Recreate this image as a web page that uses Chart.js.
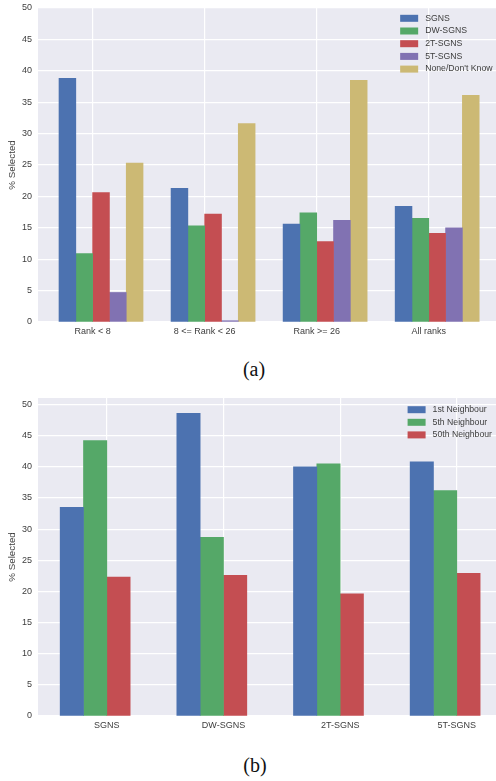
<!DOCTYPE html>
<html>
<head>
<meta charset="utf-8">
<script src="https://cdn.jsdelivr.net/npm/chart.js@4.4.1/dist/chart.umd.min.js"></script>
<style>
  html, body { margin: 0; padding: 0; background: #fff; }
  body { width: 496px; height: 781px; position: relative; overflow: hidden; }
  canvas { position: absolute; left: 0; }
  #chartA { top: 0; }
  #chartB { top: 390px; }
  .caption {
    position: absolute; transform: translateX(-50%);
    font-family: 'Liberation Serif', 'Times New Roman', serif;
    font-size: 20px; line-height: 20px; color: #111; white-space: nowrap;
  }
</style>
</head>
<body>
<canvas id="chartA" width="496" height="342"></canvas>
<div class="caption" style="left: 254px; top: 359px;">(a)</div>
<canvas id="chartB" width="496" height="350"></canvas>
<div class="caption" style="left: 255px; top: 755px;">(b)</div>
<script>
// (a) share of answers per rank bucket
const rankGroups = ['Rank < 8', '8 <= Rank < 26', 'Rank >= 26', 'All ranks'];
const methodsA = ['SGNS', 'DW-SGNS', '2T-SGNS', '5T-SGNS', "None/Don't Know"];
const sgnsA = [38.8, 21.3, 15.6, 18.4];
const dwSgnsA = [10.9, 15.3, 17.4, 16.5];
const t2SgnsA = [20.6, 17.2, 12.8, 14.1];
const t5SgnsA = [4.7, 0.2, 16.2, 15.0];
const noneA = [25.3, 31.6, 38.5, 36.1];
const yTicksA = [0, 5, 10, 15, 20, 25, 30, 35, 40, 45, 50];

// (b) share per neighbour rank
const methodsB = ['SGNS', 'DW-SGNS', '2T-SGNS', '5T-SGNS'];
const neighbourNames = ['1st Neighbour', '5th Neighbour', '50th Neighbour'];
const firstNb = [33.5, 48.6, 40.0, 40.8];
const fifthNb = [44.2, 28.7, 40.5, 36.2];
const fiftiethNb = [22.3, 22.6, 19.6, 22.9];
const yTicksB = [0, 5, 10, 15, 20, 25, 30, 35, 40, 45, 50];

const palette = ['#4C72B0', '#55A868', '#C44E52', '#8172B2', '#CCB974'];
const textColor = '#3d3d3d';
const fontFamily = "'Liberation Sans', Arial, sans-serif";

const plotBackground = {
    id: 'plotBackground',
    beforeDraw(chart) {
        const {ctx, chartArea: a} = chart;
        ctx.save();
        ctx.fillStyle = '#EAEAF2';
        ctx.fillRect(a.left, a.top, a.width, a.height);
        ctx.restore();
    }
};

// matplotlib-like legend in the upper right corner, no frame
const cornerLegend = {
    id: 'cornerLegend',
    afterDatasetsDraw(chart, args, opts) {
        const {ctx, chartArea} = chart;
        const sets = chart.data.datasets;
        ctx.save();
        ctx.font = opts.fontSize + 'px ' + fontFamily;
        const maxW = Math.max(...sets.map(d => ctx.measureText(d.label).width));
        const textX = chartArea.right - opts.right - maxW;
        ctx.textBaseline = 'middle';
        ctx.textAlign = 'left';
        sets.forEach((d, i) => {
            const y = chartArea.top + opts.top + i * opts.rowGap;
            ctx.fillStyle = d.backgroundColor;
            ctx.fillRect(textX - 25, y - 3.5, 18, 7);
            ctx.fillStyle = textColor;
            ctx.fillText(d.label, textX, y);
        });
        ctx.restore();
    }
};

function groupedBars(id, cats, series, names, cfg) {
    const datasets = series.map((values, k) => ({
        label: names[k],
        data: values.map((v, i) => ({x: i + (k - 1.5) * cfg.barWidth, y: v})),
        backgroundColor: palette[k],
        borderWidth: 0,
        grouped: false,
        barPercentage: 1,
        categoryPercentage: 1
    }));

    return new Chart(document.getElementById(id), {
        type: 'bar',
        data: {datasets},
        options: {
            responsive: false,
            animation: false,
            events: [],
            layout: {padding: {top: 8, right: 0, bottom: 0, left: 0}},
            scales: {
                x: {
                    type: 'linear',
                    offset: false,
                    min: cfg.xMin,
                    max: cfg.xMax,
                    afterBuildTicks: s => { s.ticks = cats.map((c, i) => ({value: i})); },
                    afterFit: s => { s.height = cfg.xAxisHeight; s.paddingLeft = 0; s.paddingRight = 0; },
                    ticks: {
                        callback: v => cats[v],
                        color: textColor,
                        font: {family: fontFamily, size: 9},
                        padding: 4,
                        maxRotation: 0,
                        autoSkip: false
                    },
                    grid: {color: '#ffffff', lineWidth: 1.2, drawTicks: false, offset: false},
                    border: {display: false}
                },
                y: {
                    min: 0,
                    max: cfg.yMax,
                    afterBuildTicks: s => { s.ticks = cfg.yTicks.map(v => ({value: v})); },
                    afterFit: s => { s.width = 38; s.paddingTop = 0; s.paddingBottom = 0; },
                    ticks: {
                        callback: v => v,
                        color: textColor,
                        font: {family: fontFamily, size: 9},
                        padding: 6
                    },
                    grid: {color: '#ffffff', lineWidth: 1.2, drawTicks: false},
                    border: {display: false},
                    title: {
                        display: true,
                        text: '% Selected',
                        color: textColor,
                        font: {family: fontFamily, size: 9.8},
                        padding: {top: 6, bottom: 0}
                    }
                }
            },
            plugins: {
                legend: {display: false},
                tooltip: {enabled: false},
                cornerLegend: cfg.legend
            }
        },
        plugins: [plotBackground, cornerLegend]
    });
}

groupedBars('chartA', rankGroups, [sgnsA, dwSgnsA, t2SgnsA, t5SgnsA, noneA], methodsA, {
    barWidth: 0.15,
    xMin: -0.4875,
    xMax: 3.6,
    yMax: 50,
    yTicks: yTicksA,
    xAxisHeight: 20,
    legend: {fontSize: 8.7, right: 3.5, top: 10.3, rowGap: 12.7}
});

groupedBars('chartB', methodsB, [firstNb, fifthNb, fiftiethNb], neighbourNames, {
    barWidth: 0.2,
    xMin: -0.59,
    xMax: 3.336,
    yMax: 51.05,
    yTicks: yTicksB,
    xAxisHeight: 24,
    legend: {fontSize: 8.7, right: 4, top: 11.7, rowGap: 12.6}
});
</script>
</body>
</html>
